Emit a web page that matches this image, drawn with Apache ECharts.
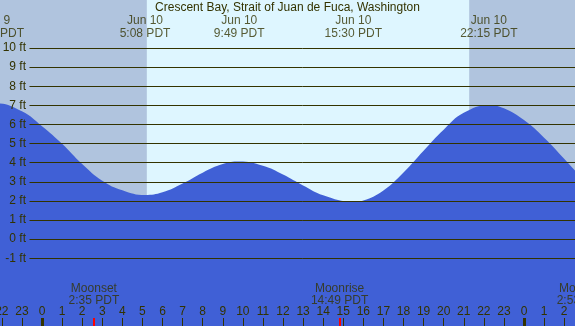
<!DOCTYPE html>
<html>
<head>
<meta charset="utf-8">
<script src="https://cdn.jsdelivr.net/npm/echarts@6/dist/echarts.min.js"></script>
<style>html,body{margin:0;padding:0;}#c{width:575px;height:326px;}</style>
</head>
<body>
<div id="c"></div>
<script>
// ---- data (hours relative to Jun 10 00:00 PDT) ----
const tideHours = [-3, -2.32, -1, 0, 1, 2, 3, 4, 5.13, 6, 7, 8, 9, 9.82, 11, 12, 13, 14, 15.5, 16, 17, 18, 19, 20, 21, 22.25, 23, 24, 25, 26, 27];
const tideFeet  = [7.05, 7.1, 6.68, 5.9, 4.98, 3.92, 3.05, 2.55, 2.3, 2.44, 2.9, 3.47, 3.92, 4.05, 3.83, 3.37, 2.8, 2.29, 1.95, 2.02, 2.54, 3.48, 4.62, 5.72, 6.6, 7.0, 6.84, 6.22, 5.3, 4.2, 3.05];
const extremeHours  = [-2.32, 5.13, 9.82, 15.5, 22.25];
const extremeLabels = ['Jun 9\n21:41 PDT', 'Jun 10\n5:08 PDT', 'Jun 10\n9:49 PDT', 'Jun 10\n15:30 PDT', 'Jun 10\n22:15 PDT'];
const moonHours  = [2.583, 14.817, 26.89];
const moonLabels = ['Moonset\n2:35 PDT', 'Moonrise\n14:49 PDT', 'Moonset\n2:53 PDT'];
const midnightHours = [0, 24];
const sunriseHour = 5.22;
const sunsetHour = 21.27;
const feetTicks = [-1, 0, 1, 2, 3, 4, 5, 6, 7, 8, 9, 10];
const titleText = 'Crescent Bay, Strait of Juan de Fuca, Washington';

// ---- layout constants ----
const FONT = 'Liberation Sans, Arial, sans-serif';
const INK = '#333300';
const Y_MIN = -4.55, Y_MAX = 12.5;       // full-height grid range (ft)
const PX_PER_FT = 326 / (Y_MAX - Y_MIN);
const TOP_LABEL_Y = Y_MAX - 27.3 / PX_PER_FT;
const MOON_LABEL_Y = Y_MAX - 294.3 / PX_PER_FT;
const TICK_TOP = Y_MIN + 8 / PX_PER_FT;

const chart = echarts.init(document.getElementById('c'), null, {renderer: 'canvas'});

const tideData = tideHours.map((h, i) => [h, tideFeet[i]]);
const extremeData = extremeHours.map((h, i) => ({value: [h, TOP_LABEL_Y], label: {formatter: extremeLabels[i]}}));
const moonData = moonHours.map((h, i) => ({value: [h, MOON_LABEL_Y], label: {formatter: moonLabels[i]}}));

const tickLines = midnightHours.map(h => [{coord: [h, Y_MIN], lineStyle: {color: INK, width: 3}}, {coord: [h, TICK_TOP]}])
  .concat(moonHours.map(h => [{coord: [h, Y_MIN], lineStyle: {color: '#ff0000', width: 2}}, {coord: [h, TICK_TOP]}]));

chart.setOption({
  animation: false,
  backgroundColor: '#B0C4DE',
  textStyle: {fontFamily: FONT},
  title: {
    text: titleText, left: 'center', top: 2, padding: 0,
    textStyle: {fontSize: 12, fontWeight: 'normal', color: INK, fontFamily: FONT}
  },
  grid: [
    {left: -18.25, right: -9.25, top: 0, bottom: 0, containLabel: false, outerBoundsMode: 'none'},
    {left: 29.5, right: 0, top: 48, height: 210.3, containLabel: false, outerBoundsMode: 'none'}
  ],
  xAxis: [
    {
      type: 'value', gridIndex: 0, min: -3, max: 27, interval: 1, z: 6,
      position: 'bottom',
      axisLine: {show: false, onZero: false},
      splitLine: {show: false},
      axisTick: {show: true, inside: true, length: 8, lineStyle: {color: INK, width: 1}},
      axisLabel: {
        show: true, inside: true, margin: 8.5, interval: 0, color: INK, fontSize: 12, fontFamily: FONT,
        showMinLabel: true, showMaxLabel: true, hideOverlap: false,
        formatter: v => String(((Math.round(v) % 24) + 24) % 24)
      }
    },
    {type: 'value', gridIndex: 1, min: 0, max: 1, show: false, axisLine: {onZero: false}}
  ],
  yAxis: [
    {type: 'value', gridIndex: 0, min: Y_MIN, max: Y_MAX, show: false, axisLine: {onZero: false}},
    {
      type: 'value', gridIndex: 1, min: feetTicks[0], max: feetTicks[feetTicks.length - 1], interval: 1, z: 5,
      axisLine: {show: false, onZero: false}, axisTick: {show: false},
      splitLine: {show: true, lineStyle: {color: INK, width: 1}},
      axisLabel: {show: true, margin: 3.5, color: INK, fontSize: 12, fontFamily: FONT, formatter: '{value} ft'}
    }
  ],
  series: [
    {
      type: 'line', xAxisIndex: 0, yAxisIndex: 0, z: 1, silent: true,
      data: [[-3, Y_MIN]], symbol: 'none', lineStyle: {width: 0},
      markArea: {
        silent: true,
        itemStyle: {color: '#DEF6FF', opacity: 1},
        data: [[{xAxis: sunriseHour, yAxis: Y_MIN}, {xAxis: sunsetHour, yAxis: Y_MAX}]]
      }
    },
    {
      type: 'line', xAxisIndex: 0, yAxisIndex: 0, z: 2, silent: true,
      data: tideData, smooth: 0.45, symbol: 'none',
      lineStyle: {width: 0, color: '#4060D6'},
      areaStyle: {color: '#4060D6', opacity: 1, origin: 'start'},
      markLine: {silent: true, symbol: 'none', label: {show: false}, data: tickLines}
    },
    {
      type: 'scatter', xAxisIndex: 0, yAxisIndex: 0, z: 7, silent: true,
      symbolSize: 0, data: extremeData,
      label: {show: true, position: 'inside', color: INK, fontSize: 12, lineHeight: 12.5, fontFamily: FONT, align: 'center', verticalAlign: 'middle'}
    },
    {
      type: 'scatter', xAxisIndex: 0, yAxisIndex: 0, z: 7, silent: true,
      symbolSize: 0, data: moonData,
      label: {show: true, position: 'inside', color: INK, fontSize: 12, lineHeight: 12, fontFamily: FONT, align: 'center', verticalAlign: 'middle'}
    }
  ]
});
</script>
</body>
</html>
